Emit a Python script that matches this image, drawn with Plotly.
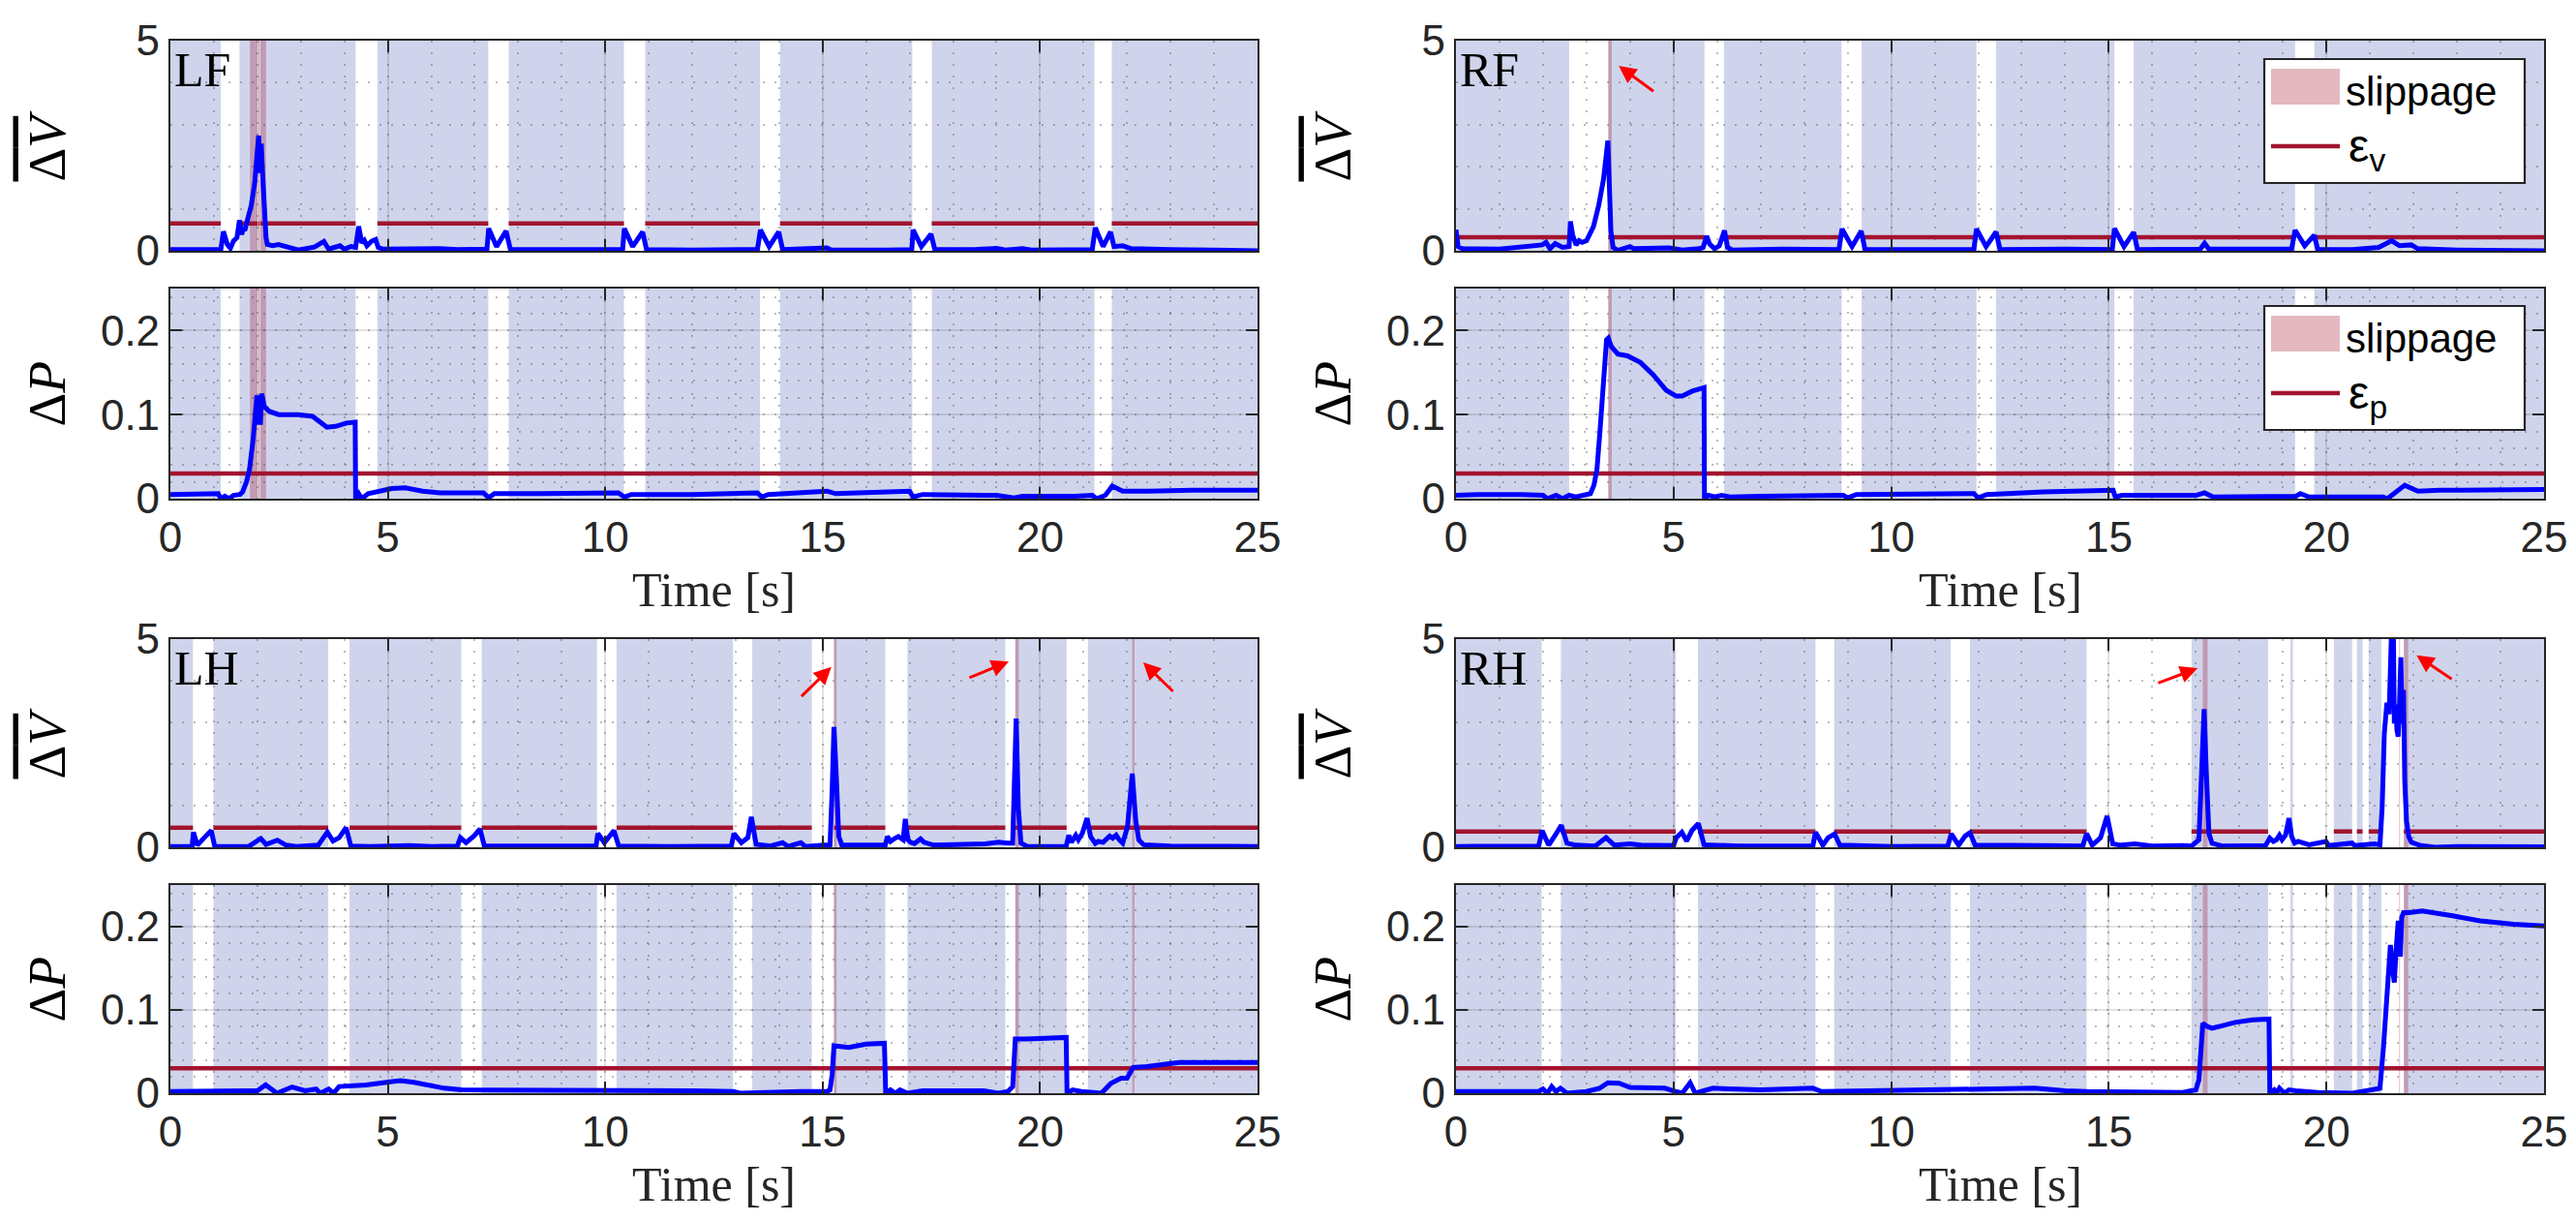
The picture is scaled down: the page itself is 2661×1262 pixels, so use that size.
import plotly.graph_objects as go

W, H = 2661, 1262

# ---------------- data ----------------
TIME_RANGE = [0, 25]
X_TICKS = [0, 5, 10, 15, 20, 25]
V_RANGE = [0, 5]
V_TICKS = [0, 5]
P_RANGE = [0, 0.25]
P_TICKS = [0, 0.1, 0.2]
P_TICK_LABELS = ["0", "0.1", "0.2"]

PANELS = ["LF", "RF", "LH", "RH"]

EPS_V = {"LF": 0.65, "RF": 0.32, "LH": 0.47, "RH": 0.38}
EPS_P = 0.03

# stance (shaded) intervals [s]
LF_STANCE = [(0, 1.16), (1.59, 2.005), (2.02, 2.055), (2.07, 4.26), (4.76, 7.31), (7.78, 10.43),
             (10.92, 13.56), (14.02, 17.06), (17.51, 21.25), (21.65, 25)]
RF_STANCE = [(0, 2.6), (3.5, 5.71), (6.16, 8.86), (9.32, 11.96), (12.41, 15.13), (15.57, 19.28), (19.72, 25)]
LH_STANCE = [(0, 0.52), (0.99, 3.63), (4.12, 6.69), (7.16, 9.81), (10.26, 12.94), (13.38, 14.75),
             (15.26, 16.44), (16.95, 19.2), (19.43, 20.61), (21.1, 25)]
RH_STANCE = [(0, 1.97), (2.41, 5.05), (5.56, 8.26), (8.69, 11.37), (11.81, 14.49), (16.9, 18.66),
             (19.17, 19.23), (20.17, 20.59), (20.70, 20.83), (20.97, 21.26), (21.78, 25)]

# slippage intervals [s]
LF_SLIP = [(1.83, 2.005), (2.02, 2.055), (2.07, 2.2)]
RF_SLIP = [(3.5, 3.58)]
LH_SLIP = [(15.26, 15.32), (19.43, 19.51), (22.12, 22.17)]
RH_SLIP = [(17.16, 17.27), (21.67, 21.69), (21.78, 21.88)]

# averaged velocity error (t [s], value)
LF_DV = [(0, 0.03), (0.5, 0.02), (1.0, 0.03), (1.16, 0.03), (1.22, 0.46), (1.31, 0.15), (1.38, 0.06),
         (1.45, 0.23), (1.53, 0.31), (1.59, 0.73), (1.64, 0.39), (1.68, 0.54), (1.71, 0.48), (1.79, 0.77),
         (1.86, 1.08), (1.94, 1.62), (1.99, 2.16), (2.03, 2.74), (2.06, 1.85), (2.09, 2.55), (2.12, 1.85),
         (2.16, 0.93), (2.20, 0.31), (2.23, 0.15), (2.35, 0.12), (2.49, 0.15), (2.7, 0.08), (2.94, 0.02),
         (3.31, 0.09), (3.53, 0.22), (3.64, 0.04), (3.75, 0.08), (3.9, 0.12), (4.0, 0.04), (4.15, 0.1),
         (4.26, 0.08), (4.33, 0.58), (4.40, 0.19), (4.46, 0.25), (4.52, 0.12), (4.63, 0.23), (4.72, 0.27),
         (4.78, 0.08), (4.9, 0.04), (5.5, 0.05), (6.2, 0.05), (6.6, 0.03), (7.0, 0.02), (7.28, 0.04),
         (7.32, 0.53), (7.5, 0.1), (7.72, 0.47), (7.82, 0.03), (8.5, 0.03), (9.5, 0.02), (10.4, 0.03),
         (10.44, 0.53), (10.63, 0.1), (10.86, 0.45), (10.95, 0.03), (12, 0.02), (13.5, 0.03), (13.57, 0.5),
         (13.77, 0.1), (13.99, 0.45), (14.08, 0.03), (15.1, 0.07), (15.2, 0.02), (16.5, 0.02), (17.05, 0.03),
         (17.08, 0.5), (17.27, 0.1), (17.49, 0.4), (17.58, 0.03), (18.5, 0.03), (19.0, 0.06), (19.2, 0.02),
         (19.6, 0.05), (19.8, 0.02), (21.2, 0.03), (21.27, 0.55), (21.45, 0.1), (21.62, 0.45), (21.7, 0.1),
         (21.9, 0.12), (22.1, 0.05), (23, 0.03), (25, 0.0)]
RF_DV = [(0, 0.5), (0.05, 0.1), (0.15, 0.05), (1.0, 0.04), (1.98, 0.14), (2.07, 0.2), (2.16, 0.05),
         (2.28, 0.17), (2.45, 0.08), (2.6, 0.1), (2.63, 0.7), (2.68, 0.38), (2.76, 0.14), (2.83, 0.24),
         (2.9, 0.2), (3.0, 0.24), (3.09, 0.43), (3.16, 0.58), (3.28, 1.08), (3.39, 1.7), (3.49, 2.62),
         (3.52, 1.55), (3.56, 0.47), (3.61, 0.08), (3.72, 0.01), (4.0, 0.1), (4.09, 0.05), (4.9, 0.07),
         (5.2, 0.02), (5.6, 0.05), (5.68, 0.08), (5.76, 0.35), (5.83, 0.16), (5.94, 0.05), (6.05, 0.12),
         (6.17, 0.48), (6.24, 0.08), (6.35, 0.02), (7.5, 0.04), (8.8, 0.03), (8.87, 0.52), (9.1, 0.1),
         (9.31, 0.47), (9.4, 0.03), (10.5, 0.03), (11.9, 0.03), (11.96, 0.52), (12.18, 0.1), (12.41, 0.45),
         (12.5, 0.03), (14, 0.04), (15.08, 0.03), (15.13, 0.53), (15.35, 0.1), (15.57, 0.44), (15.66, 0.03),
         (17.1, 0.04), (17.2, 0.18), (17.3, 0.04), (18.0, 0.03), (19.2, 0.04), (19.28, 0.49), (19.5, 0.12),
         (19.72, 0.37), (19.8, 0.03), (20.6, 0.03), (21.2, 0.08), (21.5, 0.24), (21.68, 0.12), (21.95, 0.14),
         (22.1, 0.05), (23, 0.02), (25, 0.0)]
LH_DV = [(0, 0.02), (0.5, 0.02), (0.53, 0.36), (0.62, 0.05), (0.78, 0.23), (0.94, 0.4), (1.02, 0.02),
         (1.8, 0.02), (2.08, 0.21), (2.2, 0.07), (2.46, 0.17), (2.66, 0.05), (2.9, 0.02), (3.4, 0.05),
         (3.52, 0.23), (3.61, 0.36), (3.74, 0.15), (3.88, 0.23), (4.04, 0.47), (4.15, 0.03), (4.6, 0.02),
         (5.5, 0.04), (6.0, 0.02), (6.6, 0.03), (6.67, 0.23), (6.8, 0.11), (6.98, 0.27), (7.12, 0.44),
         (7.22, 0.03), (8.5, 0.02), (9.79, 0.03), (9.83, 0.33), (9.98, 0.11), (10.2, 0.4), (10.31, 0.03),
         (11.5, 0.02), (12.9, 0.03), (12.96, 0.33), (13.13, 0.11), (13.28, 0.23), (13.36, 0.73), (13.47, 0.07),
         (13.8, 0.03), (14.08, 0.11), (14.2, 0.02), (14.5, 0.11), (14.6, 0.02), (15.03, 0.05), (15.17, 0.06),
         (15.22, 1.42), (15.26, 2.89), (15.31, 1.8), (15.37, 0.26), (15.44, 0.06), (16.44, 0.05), (16.49, 0.26),
         (16.56, 0.14), (16.67, 0.22), (16.74, 0.26), (16.85, 0.18), (16.9, 0.68), (16.96, 0.18), (17.02, 0.12),
         (17.11, 0.09), (17.25, 0.2), (17.33, 0.12), (17.56, 0.05), (18.74, 0.08), (19.04, 0.12), (19.26, 0.1),
         (19.37, 0.1), (19.45, 3.09), (19.5, 0.95), (19.56, 0.1), (19.71, 0.02), (20.6, 0.02), (20.66, 0.29),
         (20.72, 0.12), (20.82, 0.29), (20.88, 0.18), (20.97, 0.33), (21.08, 0.7), (21.16, 0.26), (21.27, 0.09),
         (21.34, 0.14), (21.45, 0.12), (21.6, 0.27), (21.67, 0.22), (21.75, 0.29), (21.82, 0.18), (21.9, 0.1),
         (22.01, 0.49), (22.12, 1.77), (22.2, 0.64), (22.27, 0.18), (22.38, 0.06), (23, 0.03), (25, 0.02)]
RH_DV = [(0, 0.02), (1.0, 0.02), (1.9, 0.03), (1.98, 0.4), (2.13, 0.05), (2.3, 0.32), (2.42, 0.53),
         (2.55, 0.1), (2.75, 0.05), (3.2, 0.03), (3.45, 0.23), (3.64, 0.05), (4.0, 0.08), (4.25, 0.05),
         (5.0, 0.04), (5.06, 0.23), (5.19, 0.36), (5.3, 0.15), (5.42, 0.4), (5.57, 0.57), (5.7, 0.06),
         (6.5, 0.03), (8.2, 0.03), (8.26, 0.36), (8.43, 0.05), (8.55, 0.23), (8.7, 0.32), (8.82, 0.05),
         (10, 0.02), (11.3, 0.03), (11.38, 0.32), (11.55, 0.05), (11.7, 0.27), (11.81, 0.35), (11.93, 0.05),
         (13.5, 0.04), (14.4, 0.03), (14.49, 0.33), (14.62, 0.05), (14.81, 0.23), (14.96, 0.75), (15.09, 0.08),
         (15.28, 0.05), (15.6, 0.08), (16.0, 0.03), (16.7, 0.04), (16.9, 0.03), (17.07, 0.18), (17.13, 2.19),
         (17.19, 3.32), (17.24, 1.8), (17.3, 0.33), (17.37, 0.1), (17.6, 0.03), (18.6, 0.04), (18.7, 0.22),
         (18.78, 0.14), (18.85, 0.18), (18.92, 0.29), (18.98, 0.18), (19.06, 0.29), (19.14, 0.7), (19.2, 0.26),
         (19.27, 0.1), (19.35, 0.14), (19.45, 0.1), (19.6, 0.06), (19.99, 0.14), (20.05, 0.04), (20.59, 0.1),
         (20.65, 0.04), (21.1, 0.08), (21.23, 0.06), (21.28, 0.95), (21.33, 2.74), (21.39, 3.47), (21.44, 3.2),
         (21.49, 5.0), (21.54, 5.0), (21.56, 2.97), (21.59, 3.43), (21.62, 2.81), (21.65, 2.66), (21.68, 3.5),
         (21.71, 4.56), (21.74, 2.97), (21.77, 3.78), (21.80, 1.57), (21.84, 0.64), (21.89, 0.26), (21.95, 0.12),
         (22.17, 0.04), (22.5, 0.0), (23, 0.02), (25, 0.01)]

# position error (t [s], value)
LF_DP = [(0, 0.005), (1.1, 0.006), (1.16, 0.0), (1.25, 0.003), (1.35, 0.0), (1.45, 0.004), (1.6, 0.005),
         (1.66, 0.008), (1.75, 0.02), (1.82, 0.035), (1.90, 0.069), (1.95, 0.096), (1.99, 0.123), (2.02, 0.088),
         (2.04, 0.123), (2.07, 0.088), (2.10, 0.125), (2.16, 0.11), (2.27, 0.104), (2.49, 0.1), (2.94, 0.1),
         (3.27, 0.098), (3.45, 0.09), (3.6, 0.085), (3.8, 0.086), (4.05, 0.09), (4.25, 0.091), (4.26, 0.0),
         (4.33, 0.006), (4.4, 0.0), (4.55, 0.006), (4.76, 0.008), (5.09, 0.012), (5.4, 0.013), (5.8, 0.009),
         (6.2, 0.007), (7.2, 0.007), (7.32, 0.001), (7.45, 0.006), (8.5, 0.006), (10.3, 0.007), (10.44, 0.002),
         (10.6, 0.005), (12, 0.005), (13.5, 0.007), (13.6, 0.002), (13.75, 0.005), (15.1, 0.009), (15.3, 0.006),
         (17.0, 0.009), (17.08, 0.002), (17.3, 0.005), (19.0, 0.004), (19.4, 0.001), (19.6, 0.003), (20.8, 0.003),
         (21.2, 0.004), (21.3, 0.0), (21.5, 0.004), (21.66, 0.015), (21.9, 0.009), (22.5, 0.009), (23.5, 0.01),
         (25, 0.01)]
RF_DP = [(0, 0.004), (0.5, 0.005), (1.5, 0.005), (2.0, 0.004), (2.1, 0.0), (2.3, 0.004), (2.45, 0.0),
         (2.6, 0.004), (2.75, 0.002), (3.0, 0.004), (3.09, 0.006), (3.17, 0.016), (3.24, 0.035), (3.31, 0.081),
         (3.39, 0.135), (3.46, 0.189), (3.5, 0.191), (3.57, 0.181), (3.72, 0.172), (3.94, 0.17), (4.24, 0.162),
         (4.54, 0.147), (4.83, 0.129), (5.06, 0.122), (5.2, 0.122), (5.43, 0.128), (5.70, 0.132), (5.71, 0.0),
         (5.8, 0.004), (5.95, 0.002), (6.1, 0.004), (6.3, 0.002), (7, 0.003), (8.9, 0.004), (9.0, 0.001),
         (9.2, 0.005), (11.9, 0.006), (12.0, 0.001), (12.2, 0.005), (13.5, 0.008), (15.1, 0.01), (15.15, 0.002),
         (15.3, 0.004), (17.0, 0.004), (17.2, 0.007), (17.4, 0.002), (19.3, 0.003), (19.4, 0.006), (19.6, 0.002),
         (21.3, 0.002), (21.4, 0.0), (21.8, 0.016), (22.1, 0.009), (22.6, 0.01), (25, 0.011)]
LH_DP = [(0, 0.002), (1.5, 0.002), (2.0, 0.003), (2.19, 0.01), (2.45, 0.0), (2.8, 0.0075), (3.1, 0.003),
         (3.35, 0.005), (3.45, 0.0), (3.64, 0.005), (3.75, 0.0), (3.88, 0.008), (4.5, 0.01), (5.1, 0.014),
         (5.29, 0.015), (5.6, 0.013), (6.3, 0.006), (6.7, 0.004), (7.0, 0.004), (9, 0.004), (10, 0.003),
         (12, 0.003), (12.95, 0.002), (13.1, 0.0), (14.5, 0.002), (15.1, 0.002), (15.17, 0.004), (15.22, 0.023),
         (15.26, 0.057), (15.6, 0.055), (16.0, 0.059), (16.42, 0.06), (16.45, 0.0), (16.56, 0.004), (16.67, 0.0),
         (16.78, 0.004), (16.95, 0.0), (17.3, 0.003), (18.7, 0.003), (19.04, 0.0), (19.26, 0.002), (19.37, 0.008),
         (19.43, 0.065), (19.7, 0.065), (20.6, 0.067), (20.62, 0.0), (20.75, 0.004), (20.95, 0.002), (21.41, 0.0),
         (21.63, 0.012), (21.86, 0.018), (22.0, 0.018), (22.14, 0.031), (22.45, 0.032), (23.2, 0.037), (25, 0.037)]
RH_DP = [(0, 0.002), (1.9, 0.002), (2.0, 0.005), (2.1, 0.0), (2.2, 0.008), (2.3, 0.002), (2.4, 0.006),
         (2.55, 0.0), (3.0, 0.002), (3.3, 0.006), (3.49, 0.0125), (3.75, 0.012), (4.0, 0.007), (4.8, 0.006),
         (5.05, 0.002), (5.2, 0.0), (5.38, 0.0125), (5.5, 0.0), (5.9, 0.006), (7.0, 0.004), (8.2, 0.006),
         (8.4, 0.002), (9.5, 0.003), (11.5, 0.004), (13.3, 0.006), (14.0, 0.003), (14.5, 0.002), (16.7, 0.001),
         (17.0, 0.004), (17.07, 0.016), (17.16, 0.084), (17.27, 0.08), (17.37, 0.078), (17.6, 0.081),
         (17.9, 0.085), (18.3, 0.088), (18.68, 0.089), (18.70, 0.0), (18.8, 0.004), (18.85, 0.0), (18.92, 0.006),
         (19.03, 0.0), (19.14, 0.004), (19.3, 0.003), (19.8, 0.001), (20.6, 0.0), (20.9, 0.003), (21.1, 0.004),
         (21.23, 0.006), (21.31, 0.055), (21.41, 0.133), (21.47, 0.178), (21.51, 0.153), (21.56, 0.133),
         (21.6, 0.172), (21.65, 0.207), (21.70, 0.164), (21.73, 0.211), (21.77, 0.217), (21.9, 0.217),
         (22.2, 0.219), (22.5, 0.217), (22.9, 0.213), (23.53, 0.207), (24.3, 0.203), (25, 0.201)]

# red arrows (head t, head value, tail t, tail value) in the velocity plots
RF_ARROWS = [(3.74, 4.40, 4.57, 3.77)]
LH_ARROWS = [(15.2, 4.33, 14.48, 3.59), (19.28, 4.46, 18.34, 4.06), (22.37, 4.44, 23.09, 3.71)]
RH_ARROWS = [(17.04, 4.30, 16.1, 3.93), (22.07, 4.61, 22.91, 4.02)]
LF_ARROWS = []

DATA = {
    "LF": dict(dv=LF_DV, dp=LF_DP, stance=LF_STANCE, slip=LF_SLIP, arrows=LF_ARROWS),
    "RF": dict(dv=RF_DV, dp=RF_DP, stance=RF_STANCE, slip=RF_SLIP, arrows=RF_ARROWS),
    "LH": dict(dv=LH_DV, dp=LH_DP, stance=LH_STANCE, slip=LH_SLIP, arrows=LH_ARROWS),
    "RH": dict(dv=RH_DV, dp=RH_DP, stance=RH_STANCE, slip=RH_SLIP, arrows=RH_ARROWS),
}

# ---------------- styles / layout ----------------
STANCE_COLOR = "rgb(207,212,236)"
SLIP_COLOR = "rgba(162,20,47,0.3)"
EPS_COLOR = "#A2142F"
CURVE_COLOR = "rgb(0,0,255)"
AX_COLOR = "#262626"
GRID_COLOR = "rgba(38,38,38,0.13)"
MINOR_COLOR = "rgba(38,38,38,0.3)"
SANS = "Liberation Sans, Arial, Helvetica, sans-serif"
SERIF = "Liberation Serif, Times New Roman, serif"

COL_LEFT = [168, 1496]
COL_RIGHT = [1291, 2620]
ROW_TOP = [34, 290, 652, 906]
ROW_BOT = [251, 507, 867, 1121]


def px_x(x):
    return x / W


def px_y(y):
    return 1 - y / H


fig = go.Figure()
shapes = []
annotations = []
layout_axes = {}

for idx, name in enumerate(PANELS):
    col = idx % 2
    grp = idx // 2
    d = DATA[name]
    xdom = [px_x(COL_LEFT[col]), px_x(COL_RIGHT[col])]
    for sub in range(2):  # 0 = velocity, 1 = position
        n = idx * 2 + sub + 1
        row = grp * 2 + sub
        ydom = [px_y(ROW_BOT[row]), px_y(ROW_TOP[row])]
        xa = "x" if n == 1 else f"x{n}"
        ya = "y" if n == 1 else f"y{n}"
        xkey = "xaxis" if n == 1 else f"xaxis{n}"
        ykey = "yaxis" if n == 1 else f"yaxis{n}"
        common = dict(
            showline=True, linecolor=AX_COLOR, linewidth=2.2, mirror="ticks",
            ticks="inside", ticklen=12, tickwidth=2, tickcolor=AX_COLOR,
            showgrid=True, gridcolor=GRID_COLOR, gridwidth=2, zeroline=False,
            tickfont=dict(family=SANS, size=44, color=AX_COLOR),
            fixedrange=True, automargin=False,
        )
        layout_axes[xkey] = dict(
            common, domain=xdom, anchor=ya, range=TIME_RANGE, tickmode="array",
            tickvals=X_TICKS, ticktext=[str(v) for v in X_TICKS], showticklabels=(sub == 1),
            minor=dict(tickmode="linear", tick0=0, dtick=1, showgrid=True, gridcolor=MINOR_COLOR,
                       griddash="2px,10px", gridwidth=1.5, ticks=""),
        )
        if sub == 0:
            yspec = dict(range=V_RANGE, tickvals=V_TICKS, ticktext=[str(v) for v in V_TICKS],
                         minor=dict(tickmode="linear", tick0=0, dtick=1, showgrid=True,
                                    gridcolor=MINOR_COLOR, griddash="2px,10px", gridwidth=1.5, ticks=""))
        else:
            yspec = dict(range=P_RANGE, tickvals=P_TICKS, ticktext=P_TICK_LABELS,
                         minor=dict(tickmode="linear", tick0=0, dtick=0.02, showgrid=True,
                                    gridcolor=MINOR_COLOR, griddash="2px,10px", gridwidth=1.5, ticks=""))
        layout_axes[ykey] = dict(common, domain=ydom, anchor=xa, tickmode="array", **yspec)

        # shading: stance phases then slippage
        for s, e in d["stance"]:
            shapes.append(dict(type="rect", xref=xa, yref=f"{ya} domain", x0=s, x1=e, y0=0, y1=1,
                               fillcolor=STANCE_COLOR, line=dict(width=0), layer="below"))
        for s, e in d["slip"]:
            shapes.append(dict(type="rect", xref=xa, yref=f"{ya} domain", x0=s, x1=e, y0=0, y1=1,
                               fillcolor=SLIP_COLOR, line=dict(width=0), layer="below"))

        # threshold line
        if sub == 0:
            ex, ey = [], []
            for s, e in d["stance"]:
                ex += [s, e, None]
                ey += [EPS_V[name], EPS_V[name], None]
        else:
            ex, ey = list(TIME_RANGE), [EPS_P, EPS_P]
        fig.add_trace(go.Scatter(x=ex, y=ey, mode="lines", xaxis=xa, yaxis=ya,
                                 line=dict(color=EPS_COLOR, width=4.5), showlegend=False,
                                 hoverinfo="skip"))
        # signal
        series = d["dv"] if sub == 0 else d["dp"]
        fig.add_trace(go.Scatter(x=[p[0] for p in series], y=[p[1] for p in series], mode="lines",
                                 xaxis=xa, yaxis=ya, line=dict(color=CURVE_COLOR, width=5),
                                 showlegend=False, name=f"{name} {'ΔV' if sub == 0 else 'ΔP'}"))

        # y axis title
        ytitle = ("<span style='text-decoration:overline'>Δ<i>V</i></span>" if sub == 0
                  else "Δ<i>P</i>")
        annotations.append(dict(text=ytitle, xref="paper", yref="paper",
                                x=px_x(COL_LEFT[col] - 128), y=px_y((ROW_TOP[row] + ROW_BOT[row]) / 2),
                                xanchor="center", yanchor="middle", textangle=-90, showarrow=False,
                                font=dict(family=SERIF, size=54, color="black")))
        if sub == 1:
            annotations.append(dict(text="Time [s]", xref="paper", yref="paper",
                                    x=px_x((COL_LEFT[col] + COL_RIGHT[col]) / 2),
                                    y=px_y(ROW_BOT[row] + 94), xanchor="center", yanchor="middle",
                                    showarrow=False, font=dict(family=SERIF, size=50, color=AX_COLOR)))
        else:
            annotations.append(dict(text=name, xref="paper", yref="paper",
                                    x=px_x(COL_LEFT[col] + 2), y=px_y(ROW_TOP[row] + 30),
                                    xanchor="left", yanchor="middle", showarrow=False,
                                    font=dict(family=SERIF, size=50, color="black")))
            for ht, hv, tt, tv in d["arrows"]:
                annotations.append(dict(text="", x=ht, y=hv, ax=tt, ay=tv, xref=xa, yref=ya,
                                        axref=xa, ayref=ya, showarrow=True, arrowhead=2,
                                        arrowsize=1.2, arrowwidth=3, arrowcolor="red", standoff=0))

# ---------- legends (RF panels) ----------
LEGEND_LABELS = [["slippage", "ε<sub>v</sub>"], ["slippage", "ε<sub>p</sub>"]]
for k, labels in enumerate(LEGEND_LABELS):
    top = 53 + k * 255
    shapes.append(dict(type="rect", xref="paper", yref="paper", x0=px_x(2331), x1=px_x(2600),
                       y0=px_y(top + 128), y1=px_y(top), fillcolor="white",
                       line=dict(color=AX_COLOR, width=2.2), layer="above"))
    shapes.append(dict(type="rect", xref="paper", yref="paper", x0=px_x(2338), x1=px_x(2409),
                       y0=px_y(top + 47), y1=px_y(top + 10), fillcolor=SLIP_COLOR,
                       line=dict(width=0), layer="above"))
    shapes.append(dict(type="line", xref="paper", yref="paper", x0=px_x(2338), x1=px_x(2409),
                       y0=px_y(top + 90), y1=px_y(top + 90), line=dict(color=EPS_COLOR, width=4.5),
                       layer="above"))
    annotations.append(dict(text=labels[0], xref="paper", yref="paper", x=px_x(2413),
                            y=px_y(top + 33), xanchor="left", yanchor="middle", showarrow=False,
                            font=dict(family=SANS, size=42, color="black")))
    annotations.append(dict(text=labels[1], xref="paper", yref="paper", x=px_x(2416),
                            y=px_y(top + 93), xanchor="left", yanchor="middle", showarrow=False,
                            font=dict(family=SANS, size=48, color="black")))

fig.update_layout(
    width=W, height=H, autosize=False,
    margin=dict(l=0, r=0, t=0, b=0, pad=0, autoexpand=False),
    paper_bgcolor="white", plot_bgcolor="white",
    showlegend=False, shapes=shapes, annotations=annotations,
    **layout_axes,
)

fig.write_html("out.html")
